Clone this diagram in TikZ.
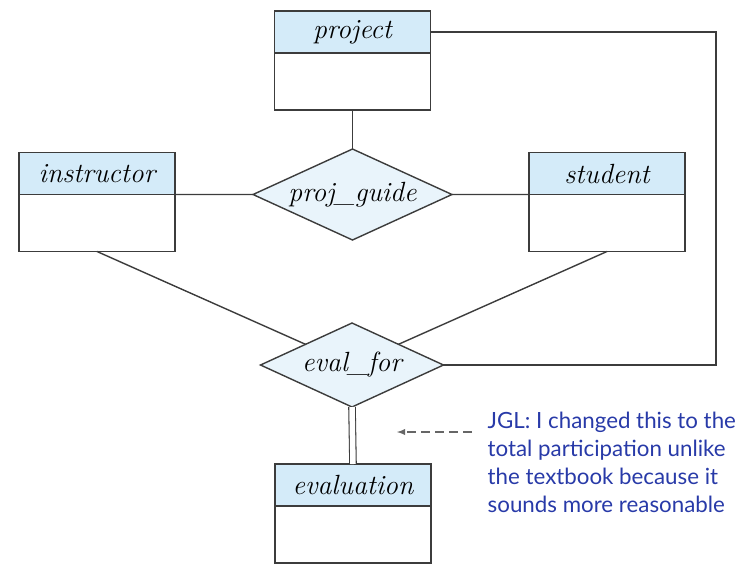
\documentclass[tikz,border=0pt]{standalone}
\usepackage{fontspec}
\usepackage{tikz}
\usetikzlibrary{positioning,shapes.geometric}
\newfontfamily\notefont{Lato}
\definecolor{headblue}{RGB}{212,235,249}
\definecolor{relblue}{RGB}{233,244,251}
\definecolor{linegray}{RGB}{60,60,60}
\definecolor{noteblue}{RGB}{40,58,168}
\tikzstyle{ehead}=[draw=linegray,fill=headblue,rectangle,outer sep=0pt,
  minimum width=3.12cm,minimum height=0.84cm,font=\itshape\fontsize{15.8}{18}\selectfont]
\tikzstyle{ebody}=[draw=linegray,fill=white,rectangle,outer sep=0pt,
  minimum width=3.12cm,minimum height=1.14cm]
\tikzstyle{rel}=[draw=linegray,fill=relblue,diamond,aspect=2.2,inner sep=0pt,outer sep=0pt,
  font=\itshape\fontsize{15.8}{18}\selectfont]

\begin{document}
\begin{tikzpicture}[x=0.02cm,y=-0.02cm,thick,draw=linegray]
  \useasboundingbox (0,0) rectangle (748,576);
  \foreach \place/\name/\word in {{(352.5,32)/project/project},
                                  {(97,173.5)/instructor/instructor},
                                  {(607,173.5)/student/student},
                                  {(353,485)/evaluation/evaluation}}
  {
    \node[ehead] (\name) at \place {\word};
    \node[ebody,below=0pt of \name] (\name b) {};
  }
  \node[rel,minimum width=3.98cm,minimum height=1.82cm] (projguide) at (352.5,194.5) {proj\textunderscore guide};
  \node[rel,minimum width=3.66cm,minimum height=1.68cm] (evalfor) at (352,365) {eval\textunderscore for};
  \coordinate (bend) at (716,365);
  \coordinate (tail) at (472,432);
  \coordinate (tip) at (397,432);

  \path (projectb.south) edge (projguide.north)
        (instructor.south east) edge (projguide.west)
        (projguide.east) edge (student.south west)
        (instructorb.south) edge (evalfor)
        (studentb.south) edge (evalfor);
  \draw (evalfor.east) -- (bend) |- (project.east);
  \draw[double distance=0.11cm,line width=0.6pt] (evalfor.south) -- (evaluation.north);
  \draw[gray!80!black,semithick,dash pattern=on 5pt off 3pt,-latex] (tail) -- (tip);
  \node[anchor=north west,align=left,inner sep=0pt,text=noteblue,
        font=\notefont\fontsize{12.7}{16}\selectfont] (note) at (487,411)
    {JGL: I changed this to the\\total participation unlike\\the textbook because it\\sounds more reasonable};
\end{tikzpicture}
\end{document}
